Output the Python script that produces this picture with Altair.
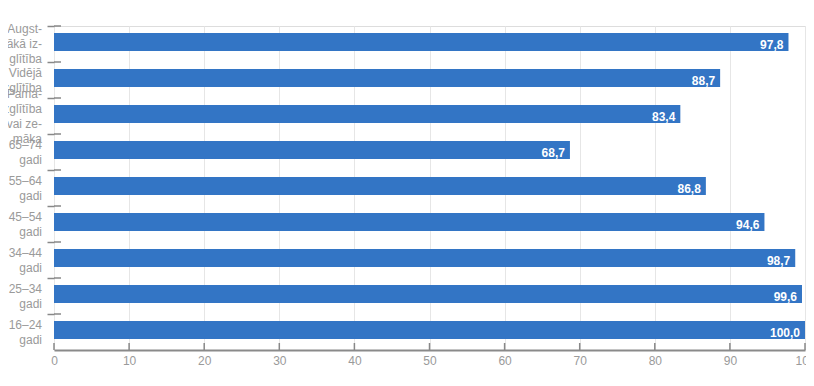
import altair as alt
import pandas as pd

categories = [
    "Augst-\nākā iz-\nglītība",
    "Vidējā\nizglītība",
    "Pama-\nizglītība\nvai ze-\nmāka",
    "65–74\ngadi",
    "55–64\ngadi",
    "45–54\ngadi",
    "34–44\ngadi",
    "25–34\ngadi",
    "16–24\ngadi",
]
values = [97.8, 88.7, 83.4, 68.7, 86.8, 94.6, 98.7, 99.6, 100.0]
x_ticks = [0, 10, 20, 30, 40, 50, 60, 70, 80, 90, 100]

FONT = "Arial, Liberation Sans, sans-serif"
W, H = 751, 324
STEP = H / len(categories)
LINE_H = 15

df = pd.DataFrame({"cat": categories, "v": values})
ticks_df = pd.DataFrame({"t": x_ticks})
rows = []
for c in categories:
    parts = c.split("\n")
    n = len(parts)
    for i, p in enumerate(parts):
        rows.append({"cat": c, "line": p, "off": STEP / 2 + (i - (n - 1) / 2) * LINE_H})
lab_df = pd.DataFrame(rows)

xscale = alt.Scale(domain=[0, 100], nice=False, zero=True)
yscale = alt.Scale(domain=categories, paddingInner=0, paddingOuter=0)

base = alt.Chart(df)

bars = base.mark_bar(color="#3375C5", height=alt.RelativeBandSize(0.61)).encode(
    x=alt.X("v:Q", scale=xscale,
            axis=alt.Axis(values=x_ticks, title=None, grid=True, gridColor="#e6e6e6",
                          tickSize=0, domainColor="#8a8a8a", domainWidth=2,
                          labelColor="#9a9a9a", labelFontSize=12, labelFont=FONT,
                          labelPadding=5, labelFlush=False, labelOverlap=False,
                          format="d")),
    y=alt.Y("cat:N", scale=yscale, sort=categories,
            axis=alt.Axis(title=None, domain=False, bandPosition=0, tickSize=7,
                          tickColor="#888888", tickWidth=1.5, labels=False)),
)

text = base.transform_calculate(
    lab="replace(format(datum.v, '.1f'), '.', ',')"
).mark_text(align="right", baseline="middle", dx=-5, dy=1, color="white",
            fontWeight="bold", fontSize=12, font=FONT).encode(
    x=alt.X("v:Q", scale=xscale),
    y=alt.Y("cat:N", scale=yscale, sort=categories),
    text="lab:N",
)

ylabels = alt.Chart(lab_df).mark_text(align="right", baseline="middle", fontSize=12,
                                      font=FONT, color="#9a9a9a").encode(
    x=alt.value(-12),
    y=alt.Y("cat:N", scale=yscale, sort=categories),
    yOffset=alt.YOffset("off:Q", scale=alt.Scale(domain=[-100, 100], range=[-100, 100])),
    text="line:N",
)

inner_ticks = base.mark_rule(color="#888888", strokeWidth=1.5).encode(
    y=alt.Y("cat:N", scale=yscale, sort=categories, bandPosition=0),
    x=alt.value(0),
    x2=alt.value(7),
)

xticks = alt.Chart(ticks_df).mark_rule(color="#888888", strokeWidth=1.5).encode(
    x=alt.X("t:Q", scale=xscale),
    y=alt.value(H - 7),
    y2=alt.value(H),
)

chart = alt.layer(bars, text, ylabels, inner_ticks, xticks).properties(
    width=W, height=H,
    autosize=alt.AutoSizeParams(type="none"),
    padding={"left": 46, "top": 18, "right": 1, "bottom": 22},
).configure_view(stroke=None).configure(background="white")

chart.save("out.html", embed_options={"renderer": "svg", "actions": False})
